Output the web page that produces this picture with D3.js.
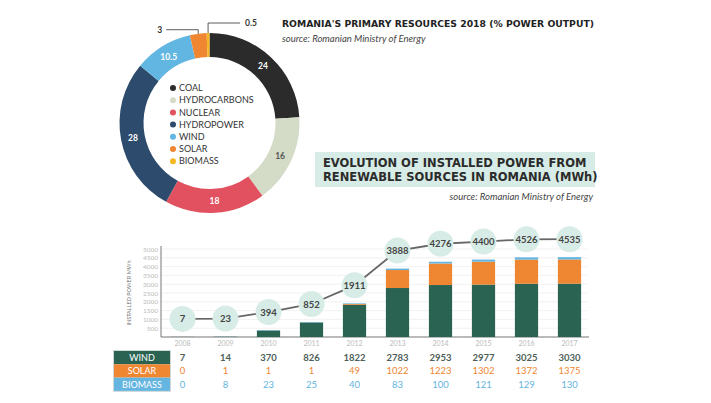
<!DOCTYPE html>
<html>
<head>
<meta charset="utf-8">
<script src="https://cdn.jsdelivr.net/npm/d3@7"></script>
<style>
	body { margin: 0; background: #ffffff; }
	svg { display: block; font-family: "Lato", sans-serif; }
</style>
</head>
<body>
<div id="chart"></div>
<script>

	//----------------------------
	// Data
	//----------------------------

	var pieLabels = ["COAL", "HYDROCARBONS", "NUCLEAR", "HYDROPOWER", "WIND", "SOLAR", "BIOMASS"];
	var pieValues = [24, 16, 18, 28, 10.5, 3, 0.5];
	var pieColors = ["#2b2b2b", "#d4dcc8", "#e2515f", "#2d4b6c", "#62b6e2", "#ee8632", "#f6b723"];

	var years = [2008, 2009, 2010, 2011, 2012, 2013, 2014, 2015, 2016, 2017];
	var wind = [7, 14, 370, 826, 1822, 2783, 2953, 2977, 3025, 3030];
	var solar = [0, 1, 1, 1, 49, 1022, 1223, 1302, 1372, 1375];
	var biomass = [0, 8, 23, 25, 40, 83, 100, 121, 129, 130];
	var yTicks = [500, 1000, 1500, 2000, 2500, 3000, 3500, 4000, 4500, 5000];

	var seriesNames = ["WIND", "SOLAR", "BIOMASS"];
	var seriesColors = ["#2a6352", "#ee8632", "#64b5e0"];
	var tableColors = ["#4d5e58", "#ee8632", "#64b5e0"];

	//----------------------------
	// Canvas
	//----------------------------

	var totwidth = 711,
		totheight = 403,
		titleFont = "'DejaVu Sans', sans-serif";

	var svg = d3.select("#chart").append("svg")
		.attr("width", totwidth)
		.attr("height", totheight);

	//----------------------------
	// Donut
	//----------------------------

	var cx = 209.5, cy = 123,
		rOuter = 90, rInner = 66;

	var pie = d3.pie().sort(null).value(function(d) { return d; });
	var arcs = pie(pieValues);

	var arc = d3.arc().innerRadius(rInner).outerRadius(rOuter);
	var outerArc = d3.arc().innerRadius(rOuter).outerRadius(rOuter);

	var donut = svg.append("g")
		.attr("transform", "translate(" + cx + "," + cy + ")");

	donut.selectAll("path").data(arcs).enter().append("path")
		.attr("d", arc)
		.attr("fill", function(d, i) { return pieColors[i]; });

	// labels on the big slices

	donut.selectAll("text.slice").data(arcs.filter(function(d) { return d.value >= 10; }))
		.enter().append("text")
		.attr("class", "slice")
		.attr("x", function(d) { return arc.centroid(d)[0]; })
		.attr("y", function(d) { return arc.centroid(d)[1] + 3; })
		.attr("text-anchor", "middle")
		.attr("font-size", 8.5)
		.attr("font-weight", "bold")
		.attr("fill", function(d) { return d.index == 1 ? "#555" : "#ffffff"; })
		.text(function(d) { return d.value; });

	// callouts for the small slices (solar to the left, biomass to the right)

	var small = arcs.filter(function(d) { return d.value < 10; });
	small.forEach(function(d) {
		var p = outerArc.centroid(d);
		var left = d.index == 5;
		var yTop = left ? p[1] - 4 : p[1] - 10;
		var xEnd = left ? p[0] - 32 : p[0] + 32;
		donut.append("polyline")
			.attr("points", [[p[0], p[1]], [p[0], yTop], [xEnd, yTop]].join(" "))
			.attr("fill", "none")
			.attr("stroke", "#333")
			.attr("stroke-width", 0.8);
		donut.append("text")
			.attr("x", left ? xEnd - 4 : xEnd + 5)
			.attr("y", yTop + 3)
			.attr("text-anchor", left ? "end" : "start")
			.attr("font-size", 8.5)
			.attr("font-weight", "bold")
			.attr("fill", "#333")
			.text(d.value);
	});

	// legend inside the hole

	var legend = svg.append("g")
		.attr("transform", "translate(173, 88)");

	var leg = legend.selectAll("g").data(pieLabels).enter().append("g")
		.attr("transform", function(d, i) { return "translate(0," + (i * 12.2) + ")"; });

	leg.append("circle")
		.attr("r", 3)
		.attr("fill", function(d, i) { return pieColors[i]; });

	leg.append("text")
		.attr("x", 6)
		.attr("y", 3.2)
		.attr("font-size", 9)
		.attr("fill", "#333")
		.text(function(d) { return d; });

	//----------------------------
	// Titles
	//----------------------------

	svg.append("text")
		.attr("x", 282).attr("y", 27)
		.attr("font-family", titleFont)
		.attr("font-size", 9.25)
		.attr("font-weight", "bold")
		.attr("fill", "#222")
		.text("ROMANIA'S PRIMARY RESOURCES 2018 (% POWER OUTPUT)");

	svg.append("text")
		.attr("x", 282).attr("y", 42)
		.attr("font-size", 9.5)
		.attr("font-style", "italic")
		.attr("fill", "#444")
		.text("source: Romanian Ministry of Energy");

	svg.append("rect")
		.attr("x", 315).attr("y", 152)
		.attr("width", 280).attr("height", 35)
		.attr("fill", "#d7ece6");

	svg.append("text")
		.attr("x", 323).attr("y", 166.5)
		.attr("font-family", titleFont)
		.attr("font-size", 11.5)
		.attr("font-weight", "bold")
		.attr("fill", "#2b2b2b")
		.text("EVOLUTION OF INSTALLED POWER FROM");

	svg.append("text")
		.attr("x", 323).attr("y", 180.5)
		.attr("font-family", titleFont)
		.attr("font-size", 11.5)
		.attr("font-weight", "bold")
		.attr("fill", "#2b2b2b")
		.text("RENEWABLE SOURCES IN ROMANIA (MWh)");

	svg.append("text")
		.attr("x", 593).attr("y", 200)
		.attr("text-anchor", "end")
		.attr("font-size", 9.5)
		.attr("font-style", "italic")
		.attr("fill", "#444")
		.text("source: Romanian Ministry of Energy");

	//----------------------------
	// Bar chart scales
	//----------------------------

	var paddingLeft = 161,
		paddingRight = 120,
		baseline = 337;

	var x = d3.scaleBand()
		.domain(years)
		.range([paddingLeft, totwidth - paddingRight])
		.paddingInner(0.46)
		.paddingOuter(0.23);

	var y = d3.scaleLinear()
		.domain([0, 5000])
		.range([baseline, 249]);

	// the totals line sits a little above the bars
	var yLine = d3.scaleLinear()
		.domain([0, 5000])
		.range([baseline - 18, 249 - 18]);

	// gridlines

	svg.append("g")
		.selectAll("line").data(yTicks).enter().append("line")
		.attr("x1", paddingLeft).attr("x2", totwidth - paddingRight - 4)
		.attr("y1", function(d) { return y(d); })
		.attr("y2", function(d) { return y(d); })
		.attr("stroke", "#eeeeee")
		.attr("stroke-width", 0.8);

	// y axis

	var yAxis = d3.axisLeft(y).tickValues(yTicks).tickSize(0).tickPadding(3)
		.tickFormat(d3.format("d"));

	var gy = svg.append("g")
		.attr("transform", "translate(" + paddingLeft + ",0)")
		.call(yAxis);
	gy.select(".domain").attr("stroke", "#777").attr("stroke-width", 1)
		.attr("d", "M0," + (y(5000) - 3) + "V" + baseline);
	gy.selectAll("text").attr("font-size", 6.5).attr("fill", "#bbb")
		.attr("font-family", "Lato, sans-serif");

	svg.append("text")
		.attr("transform", "translate(131," + y(2500) + ") rotate(-90)")
		.attr("text-anchor", "middle")
		.attr("font-size", 5.5)
		.attr("fill", "#777")
		.text("INSTALLED POWER MWh");

	// x axis

	var xAxis = d3.axisBottom(x).tickSize(0).tickPadding(4);

	var gx = svg.append("g")
		.attr("transform", "translate(0," + baseline + ")")
		.call(xAxis);
	gx.select(".domain").attr("stroke", "#777").attr("stroke-width", 1.2)
		.attr("d", "M" + paddingLeft + ",0H" + (totwidth - paddingRight - 2));
	gx.selectAll("text").attr("font-size", 7).attr("fill", "#bbb")
		.attr("font-family", "Lato, sans-serif");

	//----------------------------
	// Totals line
	//----------------------------

	var rows = years.map(function(yr, i) {
		return { year: yr, WIND: wind[i], SOLAR: solar[i], BIOMASS: biomass[i] };
	});

	var totals = rows.map(function(d) {
		return { year: d.year, total: d3.sum(seriesNames, function(k) { return d[k]; }) };
	});

	var linefun = d3.line()
		.x(function(d) { return x(d.year) + x.bandwidth() / 2; })
		.y(function(d) { return yLine(d.total); });

	svg.append("path")
		.datum(totals)
		.attr("d", linefun)
		.attr("fill", "none")
		.attr("stroke", "#666")
		.attr("stroke-width", 1.8);

	var bubble = svg.append("g").selectAll("g").data(totals).enter().append("g")
		.attr("transform", function(d) {
			return "translate(" + (x(d.year) + x.bandwidth() / 2) + "," + yLine(d.total) + ")";
		});

	bubble.append("circle")
		.attr("r", 13)
		.attr("fill", "#d7ece6");

	bubble.append("text")
		.attr("y", 3.5)
		.attr("text-anchor", "middle")
		.attr("font-size", 9.5)
		.attr("font-weight", "bold")
		.attr("fill", "#444")
		.text(function(d) { return d.total; });

	//----------------------------
	// Stacked bars (on top of the bubbles)
	//----------------------------

	var stacked = d3.stack().keys(seriesNames)(rows);

	svg.append("g").selectAll("g").data(stacked).enter().append("g")
		.attr("fill", function(d, i) { return seriesColors[i]; })
		.selectAll("rect").data(function(d) { return d; }).enter().append("rect")
		.attr("x", function(d) { return x(d.data.year); })
		.attr("width", x.bandwidth())
		.attr("y", function(d) { return y(d[1]); })
		.attr("height", function(d) { return y(d[0]) - y(d[1]); });

	//----------------------------
	// Table under the bars
	//----------------------------

	var tableSeries = [wind, solar, biomass];
	var rowTop = 351, rowH = 13.3;

	var tbl = svg.append("g");

	tbl.append("rect")
		.attr("x", 113.5).attr("y", rowTop - 0.5)
		.attr("width", 57).attr("height", rowH * 3 + 1)
		.attr("fill", "none")
		.attr("stroke", "#cfd8d6")
		.attr("stroke-width", 1);

	seriesNames.forEach(function(name, r) {
		tbl.append("rect")
			.attr("x", 114).attr("y", rowTop + r * rowH)
			.attr("width", 56).attr("height", rowH)
			.attr("fill", seriesColors[r]);
		tbl.append("text")
			.attr("x", 142).attr("y", rowTop + r * rowH + rowH / 2 + 3.3)
			.attr("text-anchor", "middle")
			.attr("font-size", 9)
			.attr("fill", "#ffffff")
			.text(name);
		tbl.selectAll("text.v" + r).data(tableSeries[r]).enter().append("text")
			.attr("class", "v" + r)
			.attr("x", function(d, i) { return x(years[i]) + x.bandwidth() / 2; })
			.attr("y", rowTop + r * rowH + rowH / 2 + 3.3)
			.attr("text-anchor", "middle")
			.attr("font-size", 9.5)
			.attr("font-weight", r == 0 ? "bold" : "normal")
			.attr("fill", tableColors[r])
			.text(function(d) { return d; });
	});

</script>
</body>
</html>
